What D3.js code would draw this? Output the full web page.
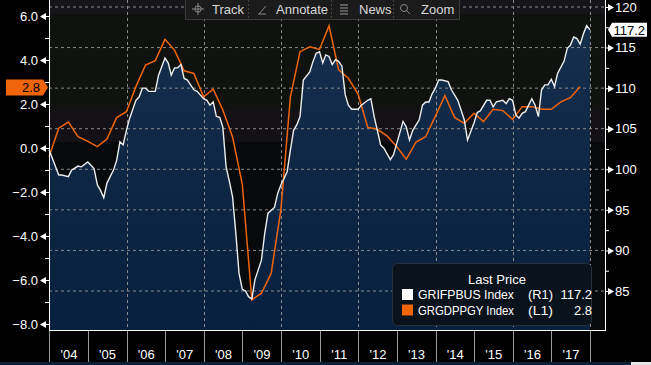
<!DOCTYPE html>
<html>
<head>
<meta charset="utf-8">
<script src="https://cdn.jsdelivr.net/npm/d3@7"></script>
<style>
  body { margin: 0; background: #000; }
  svg { display: block; font-family: "Liberation Sans", Arial, sans-serif; }
</style>
</head>
<body>
<svg id="chart" width="651" height="365"></svg>
<script>
// Ifo business climate (right axis), monthly
const ifoMonths = [
  "2003-12",
  "2004-03","2004-04","2004-06","2004-07","2004-09","2004-10","2004-12",
  "2005-02","2005-03","2005-04","2005-05","2005-06","2005-08","2005-09","2005-10","2005-11","2005-12",
  "2006-01","2006-03","2006-04","2006-05","2006-06","2006-07","2006-09","2006-10","2006-12",
  "2007-01","2007-02","2007-03","2007-04","2007-05","2007-06","2007-07","2007-09","2007-10","2007-12",
  "2008-01","2008-02","2008-03","2008-04","2008-05","2008-06","2008-07","2008-08","2008-09","2008-10","2008-11","2008-12",
  "2009-01","2009-02","2009-03","2009-04","2009-06","2009-07","2009-08","2009-10","2009-11","2009-12",
  "2010-01","2010-02","2010-03","2010-04","2010-05","2010-06","2010-07","2010-09","2010-10","2010-11","2010-12",
  "2011-01","2011-02","2011-03","2011-04","2011-05","2011-06","2011-07","2011-08","2011-09","2011-10","2011-12",
  "2012-01","2012-03","2012-04","2012-05","2012-06","2012-07","2012-08","2012-10","2012-11","2012-12",
  "2013-02","2013-03","2013-04","2013-05","2013-07","2013-08","2013-09","2013-10","2013-11","2013-12",
  "2014-01","2014-02","2014-04","2014-05","2014-07","2014-09","2014-10","2014-12",
  "2015-01","2015-02","2015-04","2015-05","2015-06","2015-07","2015-09","2015-10","2015-11","2015-12",
  "2016-01","2016-02","2016-03","2016-04","2016-06","2016-07","2016-08","2016-09","2016-10","2016-11","2016-12",
  "2017-01","2017-02","2017-04","2017-05","2017-06","2017-07","2017-08","2017-09","2017-10","2017-11","2017-12"
];
const ifoValues = [
  102.4,
  99.3, 99.3, 99.1, 99.9, 100.4, 100.3, 100.9,
  100.1, 98.1, 97.4, 96.5, 98.3, 99.9, 101.1, 103.4, 103.0, 104.8,
  106.3, 108.5, 108.9, 110.0, 110.0, 109.6, 109.6, 111.6, 113.7,
  113.1, 111.6, 112.5, 112.5, 112.9, 111.2, 111.0, 109.8, 109.6, 108.7,
  108.5, 107.9, 108.3, 106.5, 106.4, 105.2, 100.3, 98.5, 96.6, 92.1, 87.2, 85.2,
  85.0, 84.3, 84.0, 86.4, 88.8, 92.1, 94.6, 95.3, 97.0, 98.1,
  98.9, 99.7, 102.4, 104.8, 105.5, 106.5, 111.0, 112.0, 113.3, 114.3, 114.5,
  113.1, 114.1, 113.9, 112.9, 113.5, 113.3, 112.7, 109.2, 107.9, 107.4, 107.4,
  107.9, 108.5, 108.7, 106.5, 104.8, 103.0, 102.6, 101.2, 101.8, 103.2,
  105.9, 105.2, 103.6, 104.8, 106.1, 107.9, 108.3, 108.3, 109.3, 110.0,
  111.0, 111.0, 110.8, 109.8, 108.5, 106.1, 103.6, 105.7,
  107.0, 107.2, 108.5, 108.5, 107.7, 108.3, 108.5, 108.1, 108.7, 108.5,
  106.7, 106.3, 106.9, 107.1, 108.7, 107.9, 106.5, 109.8, 110.4, 110.4, 111.1,
  110.2, 111.8, 113.3, 114.9, 115.3, 116.3, 116.1, 115.4, 116.7, 117.7, 117.2
];

// German GDP yoy % (left axis), quarterly from 2003Q4
const gdpFirstYear = 2003, gdpFirstQuarter = 4;
const gdpValues = [
  -0.40,
  0.90, 1.18, 0.51, 0.30,
  0.06, 0.41, 1.38, 1.65,
  2.79, 3.77, 3.97, 4.94,
  4.45, 3.51, 3.39, 2.33,
  2.67, 1.73, 0.50, -1.65,
  -6.90, -6.60, -5.70, -2.80,
  2.33, 4.38, 4.60, 4.48,
  5.55, 3.55, 3.17, 2.45,
  0.94, 0.85, 0.55, 0.06,
  -0.51, 0.27, 0.51, 1.45,
  2.38, 1.39, 1.12, 1.58,
  1.20, 1.76, 1.70, 1.30,
  1.88, 1.88, 1.76, 1.76,
  2.10, 2.29, 2.80
];

const leftTicks = [-8, -6, -4, -2, 0, 2, 4, 6];
const leftMinor = [-7, -5, -3, -1, 1, 3, 5];
const rightTicks = [85, 90, 95, 100, 105, 110, 115, 120];
const rightMinor = [87.5, 92.5, 97.5, 102.5, 107.5, 112.5, 117.5];
const yearTicks = d3.range(2004, 2019);
const yearLabels = d3.range(2004, 2018);
const toolButtons = ["Track", "Annotate", "News", "Zoom"];
const legendRows = [
  { name: "GRIFPBUS Index", axis: "(R1)", last: "117.2", color: "#ffffff" },
  { name: "GRGDPPGY Index", axis: "(L1)", last: "2.8", color: "#f0640a" }
];

const ifo = ifoMonths.map((m, i) => {
  const [y, mo] = m.split("-").map(Number);
  return { date: new Date(y, mo, 0), value: ifoValues[i] };
});
const gdp = gdpValues.map((v, i) => {
  const q = gdpFirstQuarter - 1 + i;
  const y = gdpFirstYear + Math.floor(q / 4);
  return { date: new Date(y, (q % 4 + 1) * 3, 0), value: v };
});

const svg = d3.select("#chart");
const plotL = 49, plotR = 605, plotT = 0, plotB = 330;

const x = d3.scaleTime()
  .domain([new Date(2004, 0, 1), new Date(2018, 0, 1)])
  .range([49.2, 590]);
const yL = d3.scaleLinear().domain([-8, 6]).range([324, 16]);
const yR = d3.scaleLinear().domain([85, 120]).range([291, 7]);

// plot background bands
const bands = [[0, 14, "#16161a"], [14, 110, "#0f120f"], [110, 142, "#141116"], [142, 330, "#08090a"]];
svg.selectAll("rect.band").data(bands).join("rect")
  .attr("x", plotL).attr("y", d => d[0])
  .attr("width", plotR - plotL).attr("height", d => d[1] - d[0])
  .attr("fill", d => d[2]);

const defs = svg.append("defs");
const grad = defs.append("linearGradient").attr("id", "areaFill")
  .attr("gradientUnits", "userSpaceOnUse")
  .attr("x1", 0).attr("y1", 20).attr("x2", 0).attr("y2", 330);
grad.append("stop").attr("offset", 0).attr("stop-color", "#16304f");
grad.append("stop").attr("offset", 0.6).attr("stop-color", "#0d2442");
grad.append("stop").attr("offset", 1).attr("stop-color", "#08203f");

svg.append("path").datum(ifo)
  .attr("fill", "url(#areaFill)")
  .attr("d", d3.area().x(d => x(d.date)).y0(plotB).y1(d => yR(d.value)));

// grid
svg.append("g").selectAll("line").data(rightTicks).join("line")
  .attr("x1", plotL).attr("x2", plotR)
  .attr("y1", d => yR(d)).attr("y2", d => yR(d))
  .attr("stroke", "#8a8a8a").attr("stroke-width", 1).attr("stroke-dasharray", "3,3");
svg.append("g").selectAll("line").data(yearTicks.filter(y => y % 2 === 0 && y > 2004)).join("line")
  .attr("x1", d => Math.round(x(new Date(d, 0, 1))) + 0.5).attr("x2", d => Math.round(x(new Date(d, 0, 1))) + 0.5)
  .attr("y1", plotT).attr("y2", plotB)
  .attr("stroke", "#8a8a8a").attr("stroke-width", 1).attr("stroke-dasharray", "3,3");

// series lines
svg.append("path").datum(gdp)
  .attr("fill", "none").attr("stroke", "#f0640a").attr("stroke-width", 1.5)
  .attr("d", d3.line().x(d => x(d.date)).y(d => yL(d.value)));
svg.append("path").datum(ifo)
  .attr("fill", "none").attr("stroke", "#eeeeee").attr("stroke-width", 1.4)
  .attr("d", d3.line().x(d => x(d.date)).y(d => yR(d.value)));

// left axis
const gL = svg.append("g").attr("transform", `translate(${plotL},0)`)
  .call(d3.axisLeft(yL).tickValues(leftTicks).tickFormat(d3.format(".1f")).tickSize(0).tickPadding(11));
gL.select(".domain").remove();
gL.selectAll(".tick text").attr("fill", "#fff").attr("font-size", 13).attr("font-family", "Liberation Sans, Arial, sans-serif");
gL.selectAll(".tick").append("path").attr("d", "M-9,0L-3,-3.5L-3,3.5Z M-3,-0.5H0V0.5H-3Z").attr("fill", "#fff");
const gLm = svg.append("g").attr("transform", `translate(${plotL},0)`)
  .call(d3.axisLeft(yL).tickValues(leftMinor).tickFormat("").tickSize(4));
gLm.select(".domain").remove();
gLm.selectAll("line").attr("stroke", "#fff");

// right axis
const gR = svg.append("g").attr("transform", `translate(${plotR},0)`)
  .call(d3.axisRight(yR).tickValues(rightTicks).tickFormat(d3.format("d")).tickSize(0).tickPadding(10));
gR.select(".domain").remove();
gR.selectAll(".tick text").attr("fill", "#fff").attr("font-size", 13).attr("font-family", "Liberation Sans, Arial, sans-serif");
gR.selectAll(".tick").append("path").attr("d", "M0,-0.5H3V0.5H0Z M3,-3.5L9,0L3,3.5Z").attr("fill", "#fff");
const gRm = svg.append("g").attr("transform", `translate(${plotR},0)`)
  .call(d3.axisRight(yR).tickValues(rightMinor).tickFormat("").tickSize(4));
gRm.select(".domain").remove();
gRm.selectAll("line").attr("stroke", "#fff");

// bottom axis
const gB = svg.append("g").attr("transform", `translate(0,${plotB})`)
  .call(d3.axisBottom(x).tickValues(yearTicks.map(y => new Date(y, 0, 1))).tickFormat("").tickSize(33));
gB.select(".domain").remove();
gB.selectAll("line").attr("stroke", "#9a9a9a").attr("shape-rendering", "crispEdges");
const gBl = svg.append("g").attr("transform", `translate(0,${plotB})`)
  .call(d3.axisBottom(x).tickValues(yearLabels.map(y => new Date(y, 6, 1)))
    .tickFormat(d3.timeFormat("'%y")).tickSize(0).tickPadding(20));
gBl.select(".domain").remove();
gBl.selectAll("text").attr("fill", "#fff").attr("font-size", 13).attr("font-family", "Liberation Sans, Arial, sans-serif");

// frame lines
svg.append("line").attr("x1", plotL + 0.5).attr("x2", plotL + 0.5).attr("y1", 0).attr("y2", plotB)
  .attr("stroke", "#fff").attr("stroke-width", 1);
svg.append("line").attr("x1", plotR + 0.5).attr("x2", plotR + 0.5).attr("y1", 0).attr("y2", plotB)
  .attr("stroke", "#fff").attr("stroke-width", 1);
svg.append("line").attr("x1", plotL).attr("x2", plotR + 1).attr("y1", plotB + 0.5).attr("y2", plotB + 0.5)
  .attr("stroke", "#fff").attr("stroke-width", 1);

// bottom strip
svg.append("rect").attr("x", 0).attr("y", 362).attr("width", 651).attr("height", 3).attr("fill", "#0b1e3a");
svg.append("rect").attr("x", 631).attr("y", 362).attr("width", 20).attr("height", 3).attr("fill", "#e6e6e6");

// last value tags
const lastIfo = ifo[ifo.length - 1], lastGdp = gdp[gdp.length - 1];
const ty = yR(lastIfo.value);
svg.append("path")
  .attr("d", `M608,${ty}L612,${ty - 7}H647V${ty + 7}H612Z`).attr("fill", "#fff");
svg.append("text").attr("x", 645).attr("y", ty + 5).attr("text-anchor", "end")
  .attr("font-size", 13).attr("fill", "#000").text(d3.format(".1f")(lastIfo.value));
const gy = yL(lastGdp.value) + 1;
svg.append("path")
  .attr("d", `M6,${gy - 8}H43L48,${gy}L43,${gy + 8}H6Z`).attr("fill", "#f0640a");
svg.append("text").attr("x", 40).attr("y", gy + 5).attr("text-anchor", "end")
  .attr("font-size", 13).attr("fill", "#000").text(d3.format(".1f")(lastGdp.value));

// toolbar
const tb = svg.append("g");
tb.append("rect").attr("x", 185.5).attr("y", -1).attr("width", 274).attr("height", 20.5)
  .attr("fill", "#1b1b1b").attr("stroke", "#3a3a3a");
const btnX = [188, 250, 333, 395];
tb.selectAll("line.sep").data(btnX.slice(1)).join("line")
  .attr("x1", d => d - 1.5).attr("x2", d => d - 1.5).attr("y1", 0).attr("y2", 19)
  .attr("stroke", "#444").attr("stroke-dasharray", "2,2");
tb.selectAll("text").data(toolButtons).join("text")
  .attr("x", (d, i) => [212, 276, 359, 421][i]).attr("y", 14)
  .attr("font-size", 13).attr("fill", "#d8d8d8").text(d => d);
// icons
tb.append("circle").attr("cx", 198).attr("cy", 9).attr("r", 3.2).attr("fill", "none").attr("stroke", "#888");
tb.append("path").attr("d", "M192,9H204M198,3V15").attr("stroke", "#888");
tb.append("path").attr("d", "M259,14L266,6M258,14H266").attr("stroke", "#888").attr("fill", "none");
tb.append("path").attr("d", "M340,5H348M340,8H348M340,11H348M340,14H348").attr("stroke", "#999");
tb.append("circle").attr("cx", 404).attr("cy", 8).attr("r", 3.5).attr("fill", "none").attr("stroke", "#888");
tb.append("path").attr("d", "M406.5,10.5L410,14").attr("stroke", "#888");

// legend
const lg = svg.append("g");
lg.append("rect").attr("x", 392.5).attr("y", 263.5).attr("width", 199).attr("height", 62).attr("rx", 5)
  .attr("fill", "#0a121b").attr("stroke", "#27313c");
lg.append("text").attr("x", 497).attr("y", 284).attr("text-anchor", "middle")
  .attr("font-size", 13).attr("fill", "#fff").text("Last Price");
const rows = lg.selectAll("g.row").data(legendRows).join("g")
  .attr("transform", (d, i) => `translate(0,${299 + i * 15.5})`);
rows.append("rect").attr("x", 402).attr("y", -10).attr("width", 11).attr("height", 11).attr("fill", d => d.color);
rows.append("text").attr("x", 418).attr("font-size", 13).attr("fill", "#fff")
  .attr("textLength", 96).attr("lengthAdjust", "spacingAndGlyphs").text(d => d.name);
rows.append("text").attr("x", 528).attr("font-size", 13).attr("fill", "#fff")
  .attr("textLength", 25).attr("lengthAdjust", "spacingAndGlyphs").text(d => d.axis);
rows.append("text").attr("x", 592).attr("text-anchor", "end").attr("font-size", 13).attr("fill", "#fff").text(d => d.last);
</script>
</body>
</html>
